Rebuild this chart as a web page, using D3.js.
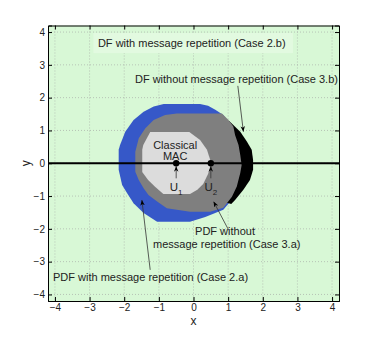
<!DOCTYPE html>
<html>
<head>
<meta charset="utf-8">
<script src="https://cdn.jsdelivr.net/npm/d3@7"></script>
<style>
  body { margin: 0; background: #fff; }
  text { font-family: "Liberation Sans", Arial, sans-serif; fill: #222; }
</style>
</head>
<body>
<div id="chart-area"></div>
<script>
// region outlines (x, y in data units)
var caseBlue = [[-2.16,0.10],[-2.16,-0.20],[-2.06,-0.66],[-1.92,-0.91],[-1.73,-1.22],[-1.44,-1.52],
  [-1.05,-1.78],[-0.10,-1.78],[0.34,-1.64],[0.86,-1.42],[1.2,-1.0],[1.3,0],[1.2,1.0],
  [0.86,1.47],[0.63,1.63],[0.42,1.75],[0.19,1.81],[-0.86,1.81],[-1.15,1.73],[-1.44,1.57],
  [-1.73,1.32],[-1.97,0.96],[-2.12,0.56],[-2.16,0.41]];
var caseBlack = [[1.03,1.29],[1.35,0.96],[1.54,0.66],[1.68,0.41],[1.72,0.10],[1.72,-0.20],
  [1.63,-0.51],[1.44,-0.81],[1.20,-1.12],[1.09,-1.24],[0.6,-1.1],[0.6,1.1]];
var caseGray = [[-1.68,-0.05],[-1.68,0.35],[-1.58,0.76],[-1.39,1.07],[-1.15,1.32],[-0.82,1.47],
  [-0.48,1.52],[0.82,1.52],[1.01,1.32],[1.15,1.12],[1.20,0.86],[1.30,0.56],[1.35,0.25],
  [1.39,-0.05],[1.35,-0.30],[1.25,-0.71],[1.11,-1.02],[0.86,-1.36],[0.48,-1.48],[-0.10,-1.48],
  [-0.48,-1.42],[-0.77,-1.37],[-1.05,-1.17],[-1.30,-0.97],[-1.44,-0.76],[-1.58,-0.51],[-1.68,-0.26]];
var caseLight = [[-1.48,0.41],[-1.48,-0.27],[-1.31,-0.51],[-1.11,-0.72],[-0.87,-0.94],[-0.10,-0.94],
  [0.11,-0.81],[0.28,-0.63],[0.42,-0.33],[0.51,0.01],[0.39,0.41],[0.19,0.71],[-0.12,0.95],
  [-1.25,0.95],[-1.45,0.56]];
var users = [{ sub: "1", x: -0.5 }, { sub: "2", x: 0.5 }];
var ticks = [-4, -3, -2, -1, 0, 1, 2, 3, 4];

var margin = { left: 48, right: 35, top: 25.5, bottom: 37 };
var width = 374 - margin.left - margin.right;
var height = 338 - margin.top - margin.bottom;

var svg = d3.select("#chart-area").append("svg")
    .attr("width", 374).attr("height", 338);

var defs = svg.append("defs");
defs.append("clipPath").attr("id", "clip")
    .append("rect").attr("width", width).attr("height", height);
defs.append("marker").attr("id", "head")
    .attr("viewBox", "0 0 10 10").attr("refX", 10).attr("refY", 5)
    .attr("markerWidth", 7).attr("markerHeight", 7).attr("orient", "auto")
    .append("path").attr("d", "M0,1L10,5L0,9L3,5Z").attr("fill", "#000");

var g = svg.append("g")
    .attr("transform", "translate(" + margin.left + "," + margin.top + ")");

var x = d3.scaleLinear().domain([-4.2, 4.2]).range([0, width]);
var y = d3.scaleLinear().domain([-4.2, 4.2]).range([height, 0]);

g.append("rect").attr("width", width).attr("height", height).attr("fill", "#d8f8d6");

// grid
g.append("g").selectAll("line").data(ticks).enter().append("line")
    .attr("x1", d => x(d)).attr("x2", d => x(d)).attr("y1", 0).attr("y2", height)
    .attr("stroke", "#a0a0a0").attr("stroke-width", 0.6).attr("stroke-dasharray", "1,2");
g.append("g").selectAll("line").data(ticks).enter().append("line")
    .attr("y1", d => y(d)).attr("y2", d => y(d)).attr("x1", 0).attr("x2", width)
    .attr("stroke", "#a0a0a0").attr("stroke-width", 0.6).attr("stroke-dasharray", "1,2");

// label background box for the top text
g.append("rect").attr("x", x(-2.89)).attr("y", y(3.97)).attr("width", x(2.87) - x(-2.89))
    .attr("height", y(3.36) - y(3.97)).attr("fill", "#e2fae0");

var poly = d3.line().x(d => x(d[0])).y(d => y(d[1]));
var regions = [
  { pts: caseBlue, fill: "#3658c8" },
  { pts: caseBlack, fill: "#000000" },
  { pts: caseGray, fill: "#7f7f7f" },
  { pts: caseLight, fill: "#dcdcdc" }
];
g.append("g").attr("clip-path", "url(#clip)").selectAll("path").data(regions).enter().append("path")
    .attr("d", d => poly(d.pts) + "Z").attr("fill", d => d.fill);

// the line through both users
g.append("line").attr("x1", 0).attr("x2", width).attr("y1", y(0)).attr("y2", y(0))
    .attr("stroke", "#000").attr("stroke-width", 2);
g.selectAll(".user").data(users).enter().append("circle")
    .attr("class", "user").attr("cx", d => x(d.x)).attr("cy", y(0)).attr("r", 3.2).attr("fill", "#000");

// arrows
var arrows = [
  [[-0.5, -0.46], [-0.5, -0.09]],
  [[0.5, -0.46], [0.5, -0.09]],
  [[1.28, 2.36], [1.44, 0.96]],
  [[1.01, -2.03], [0.58, -1.17]],
  [[-1.25, -3.25], [-1.49, -1.12]]
];
g.selectAll(".arrow").data(arrows).enter().append("line")
    .attr("class", "arrow")
    .attr("x1", d => x(d[0][0])).attr("y1", d => y(d[0][1]))
    .attr("x2", d => x(d[1][0])).attr("y2", d => y(d[1][1]))
    .attr("stroke", "#333").attr("stroke-width", 0.8).attr("marker-end", "url(#head)");

// annotations
var notes = [
  { t: "DF with message repetition (Case 2.b)", x: -0.05, y: 3.55 },
  { t: "DF without message repetition (Case 3.b)", x: 1.24, y: 2.45 },
  { t: "Classical", x: -0.53, y: 0.43 },
  { t: "MAC", x: -0.53, y: 0.1 },
  { t: "PDF without", x: 0.91, y: -2.2 },
  { t: "message repetition (Case 3.a)", x: 0.96, y: -2.57 },
  { t: "PDF with message repetition (Case 2.a)", x: -1.24, y: -3.6 }
];
g.selectAll(".note").data(notes).enter().append("text")
    .attr("class", "note").attr("x", d => x(d.x)).attr("y", d => y(d.y))
    .attr("text-anchor", "middle").attr("font-size", "11px").text(d => d.t);

var ulab = g.selectAll(".ulab").data(users).enter().append("text")
    .attr("class", "ulab").attr("x", d => x(d.x)).attr("y", y(-0.85))
    .attr("text-anchor", "middle").attr("font-size", "11.5px");
ulab.append("tspan").text("U");
ulab.append("tspan").attr("dy", 3.5).attr("font-size", "8px").text(d => d.sub);

// axes, MATLAB style: inward ticks on all four sides
function fmt(d) { return d < 0 ? "\u2212" + Math.abs(d) : String(d); }
g.append("g").attr("transform", "translate(0," + height + ")")
    .call(d3.axisBottom(x).tickValues(ticks).tickSize(-4).tickPadding(3).tickFormat(fmt));
g.append("g").call(d3.axisLeft(y).tickValues(ticks).tickSize(-4).tickPadding(3).tickFormat(fmt));
g.append("g").call(d3.axisTop(x).tickValues(ticks).tickSize(-4).tickFormat(""));
g.append("g").attr("transform", "translate(" + width + ",0)")
    .call(d3.axisRight(y).tickValues(ticks).tickSize(-4).tickFormat(""));
g.selectAll(".domain").attr("stroke", "#000");
g.selectAll(".tick line").attr("stroke", "#000");
g.selectAll(".tick text").attr("font-size", "10px").attr("fill", "#222")
    .attr("font-family", "'Liberation Sans', Arial, sans-serif");

g.append("text").attr("x", width / 2).attr("y", height + 24)
    .attr("text-anchor", "middle").attr("font-size", "12px").text("x");
g.append("text").attr("transform", "translate(" + (-18) + "," + (height / 2) + ") rotate(-90)")
    .attr("text-anchor", "middle").attr("font-size", "12px").text("y");
</script>
</body>
</html>
